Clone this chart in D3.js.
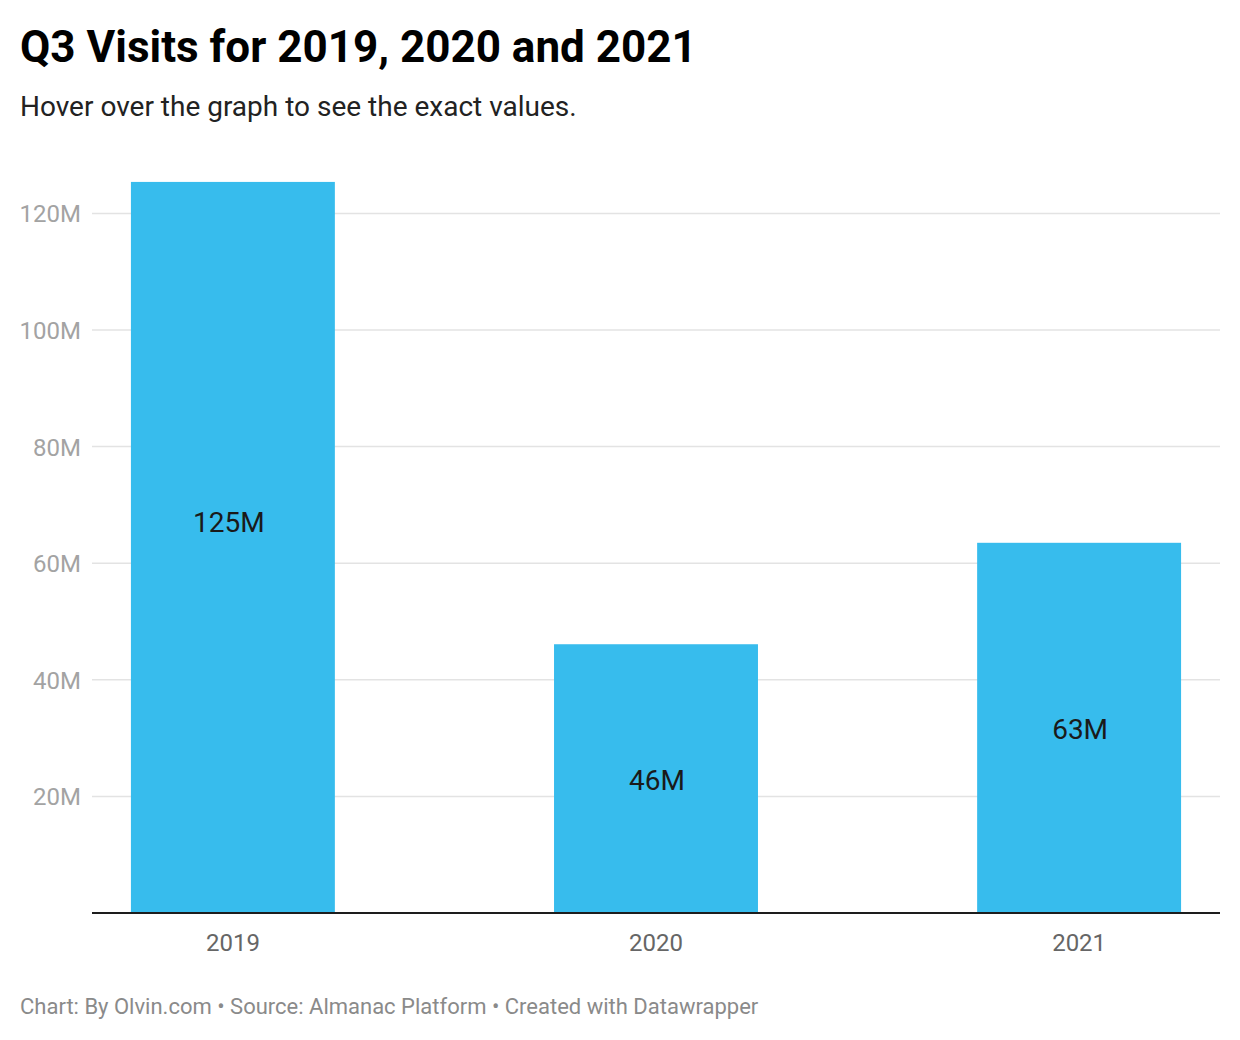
<!DOCTYPE html>
<html>
<head>
<meta charset="utf-8">
<script src="https://cdn.jsdelivr.net/npm/d3@7"></script>
<style>
  body { margin: 0; background: #fff; font-family: Roboto, "Noto Sans", sans-serif; }
</style>
</head>
<body>
<div id="chart"></div>
<script>
// data
var years = ["2019", "2020", "2021"];
var visits = [125.4, 46.1, 63.5];        // millions
var valueLabels = ["125M", "46M", "63M"];
var yTicks = [20, 40, 60, 80, 100, 120];

var svgWidth = 1240;
var svgHeight = 1040;

var svg = d3.select("#chart")
  .append("svg")
  .attr("width", svgWidth)
  .attr("height", svgHeight);

// title and subtitle
svg.append("text")
  .attr("x", 20)
  .attr("y", 62)
  .attr("font-size", 44)
  .attr("font-weight", 700)
  .attr("fill", "#000")
  .text("Q3 Visits for 2019, 2020 and 2021");

svg.append("text")
  .attr("x", 20)
  .attr("y", 116)
  .attr("font-size", 28)
  .attr("fill", "#222")
  .text("Hover over the graph to see the exact values.");

var plotLeft = 92, plotRight = 1220, plotBottom = 913;

var x = d3.scaleBand()
  .domain(years)
  .range([plotLeft, plotRight])
  .paddingInner(0.518)
  .paddingOuter(0.092);

var y = d3.scaleLinear()
  .domain([0, 120])
  .range([plotBottom, plotBottom - 6 * 116.6]);

// gridlines
svg.append("g")
  .selectAll("line")
  .data(yTicks)
  .enter()
  .append("line")
  .attr("x1", plotLeft)
  .attr("x2", plotRight)
  .attr("y1", d => y(d))
  .attr("y2", d => y(d))
  .attr("stroke", "#e3e3e3")
  .attr("stroke-width", 1.5);

// y labels
svg.append("g")
  .selectAll("text")
  .data(yTicks)
  .enter()
  .append("text")
  .attr("x", 81)
  .attr("y", d => y(d) + 9)
  .attr("text-anchor", "end")
  .attr("font-size", 24)
  .attr("fill", "#a3a3a3")
  .text(d => d + "M");

// bars
svg.append("g")
  .selectAll("rect")
  .data(visits)
  .enter()
  .append("rect")
  .attr("x", (d, i) => x(years[i]))
  .attr("y", d => y(d))
  .attr("width", x.bandwidth())
  .attr("height", d => y(0) - y(d))
  .attr("fill", "#37bced");

// value labels inside each bar (the tall one sits a bit higher)
svg.append("g")
  .selectAll("text")
  .data(visits)
  .enter()
  .append("text")
  .attr("x", (d, i) => x(years[i]) + x.bandwidth() / 2 + (i === 0 ? -4 : 1))
  .attr("y", (d, i) => (y(d) + y(0)) / 2 + 11 + (i === 0 ? -26 : 0))
  .attr("text-anchor", "middle")
  .attr("font-size", 28)
  .attr("fill", "#1a1a1a")
  .text((d, i) => valueLabels[i]);

// baseline
svg.append("line")
  .attr("x1", plotLeft)
  .attr("x2", plotRight)
  .attr("y1", plotBottom)
  .attr("y2", plotBottom)
  .attr("stroke", "#1d1d1d")
  .attr("stroke-width", 2);

// x axis labels
var xAxis = d3.axisBottom(x).tickSize(0).tickPadding(0);
var xg = svg.append("g")
  .attr("transform", `translate(0, ${plotBottom})`)
  .call(xAxis);
xg.select(".domain").remove();
xg.selectAll("text")
  .attr("y", 38)
  .attr("dy", 0)
  .attr("font-size", 24)
  .attr("font-family", "Roboto, sans-serif")
  .attr("fill", "#666");

// footer
svg.append("text")
  .attr("x", 20)
  .attr("y", 1014)
  .attr("font-size", 22)
  .attr("fill", "#8a8a8a")
  .text("Chart: By Olvin.com \u2022 Source: Almanac Platform \u2022 Created with Datawrapper");
</script>
</body>
</html>
